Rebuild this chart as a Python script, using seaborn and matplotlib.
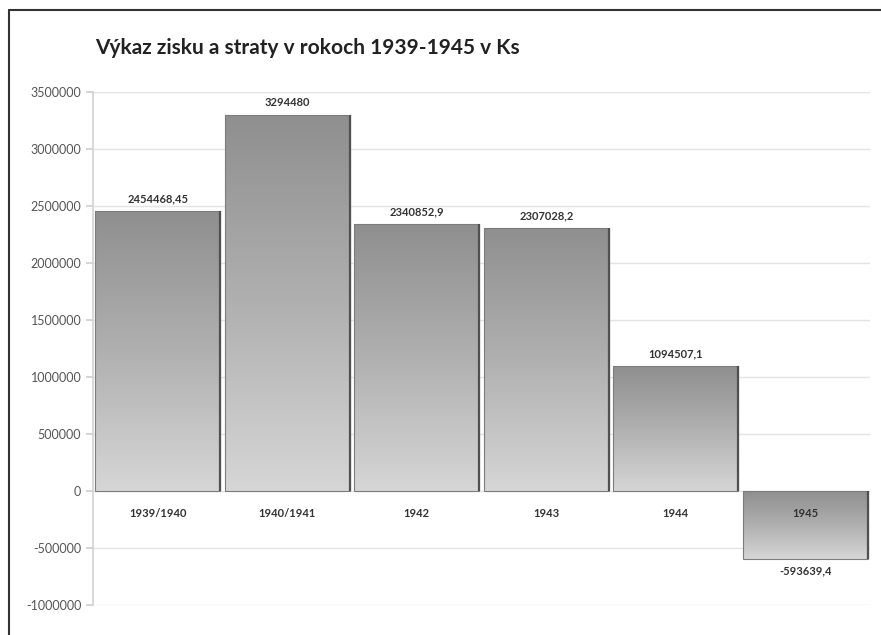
import numpy as np
import pandas as pd
import seaborn as sns
import matplotlib.pyplot as plt
from matplotlib.lines import Line2D
from matplotlib.colors import LinearSegmentedColormap

# Data
roky = ["1939/1940", "1940/1941", "1942", "1943", "1944", "1945"]
hodnoty = [2454468.45, 3294480, 2340852.9, 2307028.2, 1094507.1, -593639.4]
y_ticky = [-1000000, -500000, 0, 500000, 1000000, 1500000, 2000000, 2500000, 3000000, 3500000]

df = pd.DataFrame({"rok": roky, "hodnota": hodnoty})


def formatuj(v):
    # desatinna ciarka, bez zbytocnych nul
    return ("%.2f" % v).rstrip("0").rstrip(".").replace(".", ",")


sns.set_theme(style="white")
plt.rcParams["font.family"] = ["Lato", "DejaVu Sans"]

fig = plt.figure(figsize=(8.81, 6.35), dpi=100)
ax = fig.add_axes([0.1056, 0.0472, 0.882, 0.808])

# mriezka pod stlpcami
for t in y_ticky:
    ax.axhline(t, color="#e4e4e4", lw=1, zorder=0)

sns.barplot(data=df, x="rok", y="hodnota", color="#a0a0a0", saturation=1,
            width=0.965, edgecolor="#7c7c7c", linewidth=0.8, ax=ax, zorder=2)

# Gradient vo vnutri stlpcov (hore tmavy, dole svetly)
gradient = LinearSegmentedColormap.from_list("sediva", ["#d6d6d6", "#b0b0b0", "#8f8f8f"])
for patch in ax.patches:
    bb = patch.get_bbox()
    y0, y1 = min(bb.y0, bb.y1), max(bb.y0, bb.y1)
    img = ax.imshow(np.linspace(0, 1, 256).reshape(-1, 1), cmap=gradient, origin="lower",
                    extent=(bb.x0, bb.x1, y0, y1), aspect="auto", zorder=2.1)
    img.set_clip_path(patch)
    patch.set_facecolor("none")
    patch.set_zorder(2.2)
    # tien na pravej strane
    ax.plot([bb.x1, bb.x1], [y0, y1], color="#505050", lw=1.6, zorder=2.3,
            solid_capstyle="butt")

ax.set_xlim(-0.5, len(roky) - 0.5)
ax.set_ylim(-1000000, 3500000)
ax.set_yticks(y_ticky)
ax.set_yticklabels([str(t) for t in y_ticky])

# Osi (popisky nad stlpcami, aby bolo vidno aj 1945)
ax.set_axisbelow(False)
for s in ["top", "right"]:
    ax.spines[s].set_visible(False)
ax.spines["left"].set_color("#d4d4d4")
ax.spines["bottom"].set_position(("data", 0))
ax.spines["bottom"].set_visible(False)
ax.tick_params(axis="y", left=True, length=5, color="#d0d0d0", labelsize=9, labelcolor="#555555")
ax.tick_params(axis="x", bottom=False, length=0, pad=12.5, labelsize=8, labelcolor="#333333")
for lbl in ax.get_xticklabels():
    lbl.set_fontweight("bold")
ax.set_xlabel("")
ax.set_ylabel("")

ax.bar_label(ax.containers[0], labels=[formatuj(v) for v in hodnoty], padding=5,
             fontsize=8, fontweight="bold", color="#333333")

fig.text(95 / 881, 1 - 48 / 635, "Výkaz zisku a straty v rokoch 1939-1945 v Ks",
         fontsize=15, fontweight="bold", color="#222222", va="center", ha="left")

# Ramcek okolo grafu
fig.add_artist(Line2D([9 / 881, 9 / 881], [0, 1 - 10 / 635], transform=fig.transFigure,
                      color="#333333", lw=1.5))
fig.add_artist(Line2D([9 / 881, 1], [1 - 10 / 635, 1 - 10 / 635], transform=fig.transFigure,
                      color="#333333", lw=1.5))

fig.savefig("out.png", dpi=100)
